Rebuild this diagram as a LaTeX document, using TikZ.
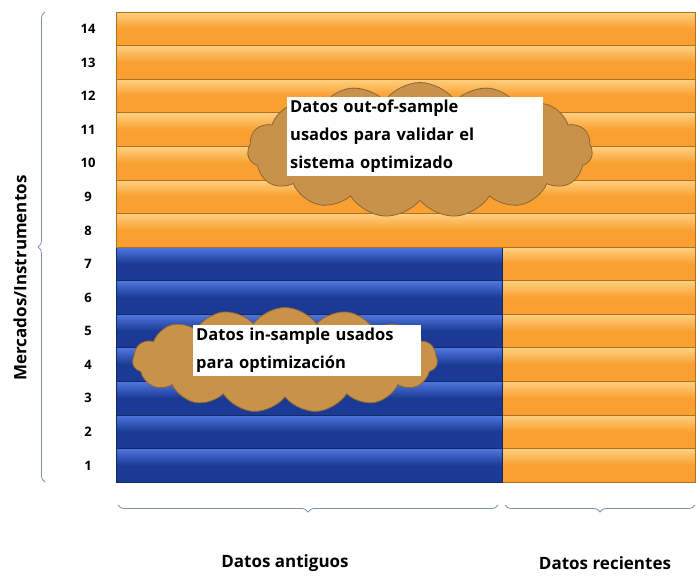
\documentclass[tikz,border=0pt]{standalone}
\usepackage{fontspec}
\setmainfont{Open Sans}
\usetikzlibrary{shapes.symbols,decorations.pathreplacing}
\definecolor{orangebar}{HTML}{F9A030}
\definecolor{orangelite}{HTML}{FFD080}
\definecolor{bluebar}{HTML}{1A3A95}
\definecolor{bluelite}{HTML}{5078E0}
\definecolor{cloudfill}{HTML}{C8924A}
\definecolor{bracecol}{HTML}{8090A8}
\begin{document}
\begin{tikzpicture}[x=1pt,y=-1pt,
  bar/.style={top color=#1lite,bottom color=#1bar,middle color=#1bar,draw=#1bar!70!black,line width=0.6pt},
  rownum/.style={font=\bfseries\fontsize{13}{15}\selectfont,anchor=center},
  brc/.style={draw=bracecol,line width=0.8pt,decorate,decoration={brace,amplitude=7pt}},
  cloudy/.style={cloud,cloud puffs=15,cloud puff arc=110,aspect=2.4,fill=cloudfill,draw=cloudfill!70!black,line width=0.8pt,inner sep=0pt},
  textbox/.style={fill=white,font=\bfseries\fontsize{16.5}{28}\selectfont,align=left,anchor=north west,inner sep=3pt},
  axlabel/.style={font=\bfseries\fontsize{17}{20}\selectfont}]
 \useasboundingbox (0,0) rectangle (700,580);
 % rows
 \foreach \r in {1,...,14}{
   \pgfmathsetmacro{\ytop}{482-\r*33.57}
   \shade[bar=orange] (116,\ytop) rectangle (695,\ytop+33.57);
   \ifnum\r<8
     \shade[bar=blue] (116,\ytop) rectangle (502,\ytop+33.57);
   \fi
   \node[rownum] (n\r) at (88,\ytop+17) {\r};
 }
 % clouds
 \node[cloudy,minimum width=345,minimum height=135] (cloudout) at (420,150) {};
 \node[cloudy,minimum width=305,minimum height=105] (cloudin) at (285,360) {};
 \node[textbox,text width=250pt] (tout) at (287,97)
   {Datos out-of-sample\\usados para validar el\\sistema optimizado};
 \node[textbox,text width=222pt] (tin) at (193,325)
   {Datos in-sample usados\\para optimización};
 % braces
 \draw[brc] (45,482) -- (45,12);
 \node[rotate=90,axlabel] (ylab) at (20,278) {Mercados/Instrumentos};
 \draw[brc] (498,505) -- (118,505);
 \draw[brc] (695,505) -- (505,505);
 \node[axlabel] (old) at (285,563) {Datos antiguos};
 \node[axlabel] (new) at (605,563) {Datos recientes};
\end{tikzpicture}
\end{document}
